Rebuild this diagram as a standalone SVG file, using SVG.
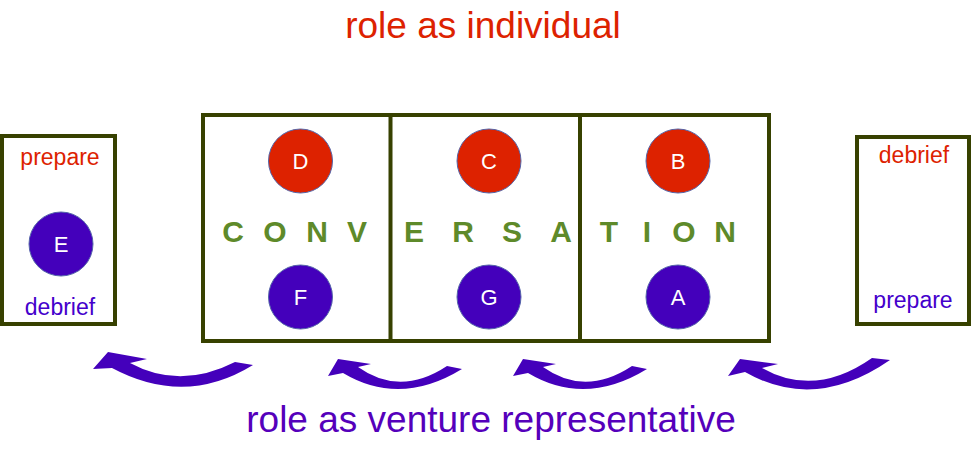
<svg xmlns="http://www.w3.org/2000/svg" width="971" height="450" viewBox="0 0 971 450">
<style>
text{font-family:"Liberation Sans",Arial,sans-serif}
.box{fill:none;stroke:#374100;stroke-width:4}
.red{fill:#DD2200;stroke:#5566AA;stroke-width:1}
.pur{fill:#4400BB;stroke:#5566AA;stroke-width:1}
.lt{fill:#fff;font-size:22px;text-anchor:middle}
.cv{fill:#5E8A2A;font-size:30px;font-weight:bold;text-anchor:middle}
.sr{fill:#DD2200;font-size:23px;text-anchor:middle}
.sp{fill:#4400CC;font-size:23px;text-anchor:middle}
.arr{fill:#4400BB}
</style>
<rect width="971" height="450" fill="#fff"/>
<text x="483" y="38" font-size="37" fill="#DD2200" text-anchor="middle">role as individual</text>
<text x="491" y="432" font-size="37" fill="#5500BB" text-anchor="middle">role as venture representative</text>
<g id="left-box">
<rect class="box" x="2" y="136" width="113" height="188"/>
<text class="sr" x="60" y="165">prepare</text>
<text class="sp" x="60" y="315">debrief</text>
</g>
<g id="node-E"><circle class="pur" cx="61" cy="244" r="32"/><text class="lt" x="61" y="252">E</text></g>
<g id="conversation">
<rect class="box" x="203" y="115" width="566" height="226"/>
<line class="box" x1="390.5" y1="115" x2="390.5" y2="341"/>
<line class="box" x1="580" y1="115" x2="580" y2="341"/>
<text class="cv" x="233" y="242">C</text>
<text class="cv" x="275" y="242">O</text>
<text class="cv" x="317" y="242">N</text>
<text class="cv" x="357" y="242">V</text>
<text class="cv" x="414" y="242">E</text>
<text class="cv" x="463" y="242">R</text>
<text class="cv" x="512" y="242">S</text>
<text class="cv" x="561" y="242">A</text>
<text class="cv" x="609" y="242">T</text>
<text class="cv" x="647" y="242">I</text>
<text class="cv" x="684" y="242">O</text>
<text class="cv" x="725" y="242">N</text>
</g>
<g id="node-D"><circle class="red" cx="300.5" cy="161" r="32"/><text class="lt" x="300.5" y="169">D</text></g>
<g id="node-F"><circle class="pur" cx="300.5" cy="297" r="32"/><text class="lt" x="300.5" y="305">F</text></g>
<g id="node-C"><circle class="red" cx="489" cy="161" r="32"/><text class="lt" x="489" y="169">C</text></g>
<g id="node-G"><circle class="pur" cx="489" cy="297" r="32"/><text class="lt" x="489" y="305">G</text></g>
<g id="node-B"><circle class="red" cx="678" cy="161" r="32"/><text class="lt" x="678" y="169">B</text></g>
<g id="node-A"><circle class="pur" cx="678" cy="297" r="32"/><text class="lt" x="678" y="305">A</text></g>
<g id="right-box">
<rect class="box" x="857" y="137" width="112" height="187"/>
<text class="sr" x="914" y="163">debrief</text>
<text class="sp" x="913" y="308">prepare</text>
</g>
<g id="connectors">
<path class="arr" d="M93,369 L108,352 L147,359 L130,363 Q180,390 235,362 L253,365 Q185,407 112,368 Z"/>
<path class="arr" d="M328,376 L338,359 L371,364 L358,367 Q400,397 447,366 L462,369 Q400,407 343,373 Z"/>
<path class="arr" d="M513,376 L523,359 L556,364 L543,367 Q585,397 632,366 L647,369 Q585,407 528,373 Z"/>
<path class="arr" d="M728,376 L740,359 L778,364 L762,368 Q815,398 872,358 L890,360 Q815,412 745,372 Z"/>
</g>
</svg>
